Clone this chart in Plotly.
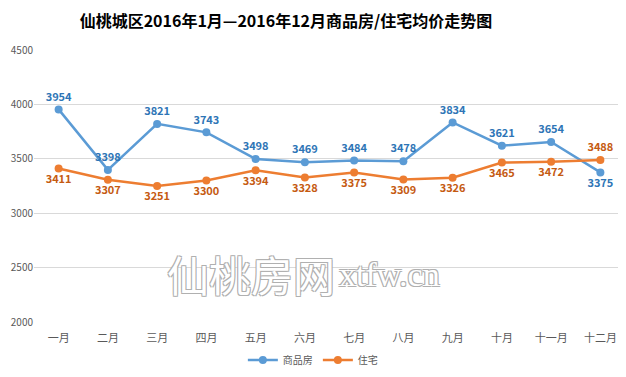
import plotly.graph_objects as go

months = ["一月", "二月", "三月", "四月", "五月", "六月", "七月", "八月", "九月", "十月", "十一月", "十二月"]
commercial = [3954, 3398, 3821, 3743, 3498, 3469, 3484, 3478, 3834, 3621, 3654, 3375]
residential = [3411, 3307, 3251, 3300, 3394, 3328, 3375, 3309, 3326, 3465, 3472, 3488]
y_ticks = [2000, 2500, 3000, 3500, 4000, 4500]

blue = "#5B9BD5"
orange = "#ED7D31"
font = "Noto Sans CJK SC"
outline = "1px 1px 0 #b0b0b0, -1px -1px 0 #b0b0b0, 1px -1px 0 #b0b0b0, -1px 1px 0 #b0b0b0"

fig = go.Figure()
fig.add_trace(go.Scatter(
    x=months, y=commercial, name="商品房", mode="lines+markers+text",
    line=dict(color=blue, width=2.5), marker=dict(size=8, color=blue),
    text=[str(v) for v in commercial],
    textposition=["top center"] * 11 + ["bottom center"],
    textfont=dict(color="#2E75B6", size=11, family=font, weight="bold"),
    cliponaxis=False,
))
fig.add_trace(go.Scatter(
    x=months, y=residential, name="住宅", mode="lines+markers+text",
    line=dict(color=orange, width=2.5), marker=dict(size=8, color=orange),
    text=[str(v) for v in residential],
    textposition=["bottom center"] * 11 + ["top center"],
    textfont=dict(color="#C55A11", size=11, family=font, weight="bold"),
    cliponaxis=False,
))

fig.add_annotation(
    text="仙桃房网", x=0.367, y=0.18, xref="paper", yref="paper",
    xanchor="center", yanchor="middle", showarrow=False,
    font=dict(size=42, color="white", family=font, shadow=outline),
)
fig.add_annotation(
    text="xtfw.cn", x=0.602, y=0.175, xref="paper", yref="paper",
    xanchor="center", yanchor="middle", showarrow=False,
    font=dict(size=34, color="white", family="Liberation Serif", shadow=outline),
)

fig.update_layout(
    width=626, height=377,
    margin=dict(l=26, r=9, t=42, b=63, autoexpand=False),
    paper_bgcolor="white", plot_bgcolor="white",
    title=dict(text="仙桃城区2016年1月—2016年12月商品房/住宅均价走势图",
               x=0.444, xanchor="center", y=0.9655, yanchor="middle",
               font=dict(size=16, color="black", family=font, weight="bold")),
    font=dict(family=font, color="#595959", size=10),
    showlegend=True,
    legend=dict(orientation="h", x=0.487, xanchor="center", y=0.066, yanchor="middle",
                xref="container", yref="container", font=dict(size=10, color="#595959")),
    xaxis=dict(range=[-0.5, 11.5], showgrid=False, showline=False, ticks="",
               tickfont=dict(size=11), automargin=False, ticklabelstandoff=8),
    yaxis=dict(range=[2000, 4500], tickvals=y_ticks, showgrid=True,
               gridcolor="#D9D9D9", gridwidth=1, zeroline=False, ticks="",
               tickfont=dict(size=10), automargin=False),
)

fig.write_html("out.html")
